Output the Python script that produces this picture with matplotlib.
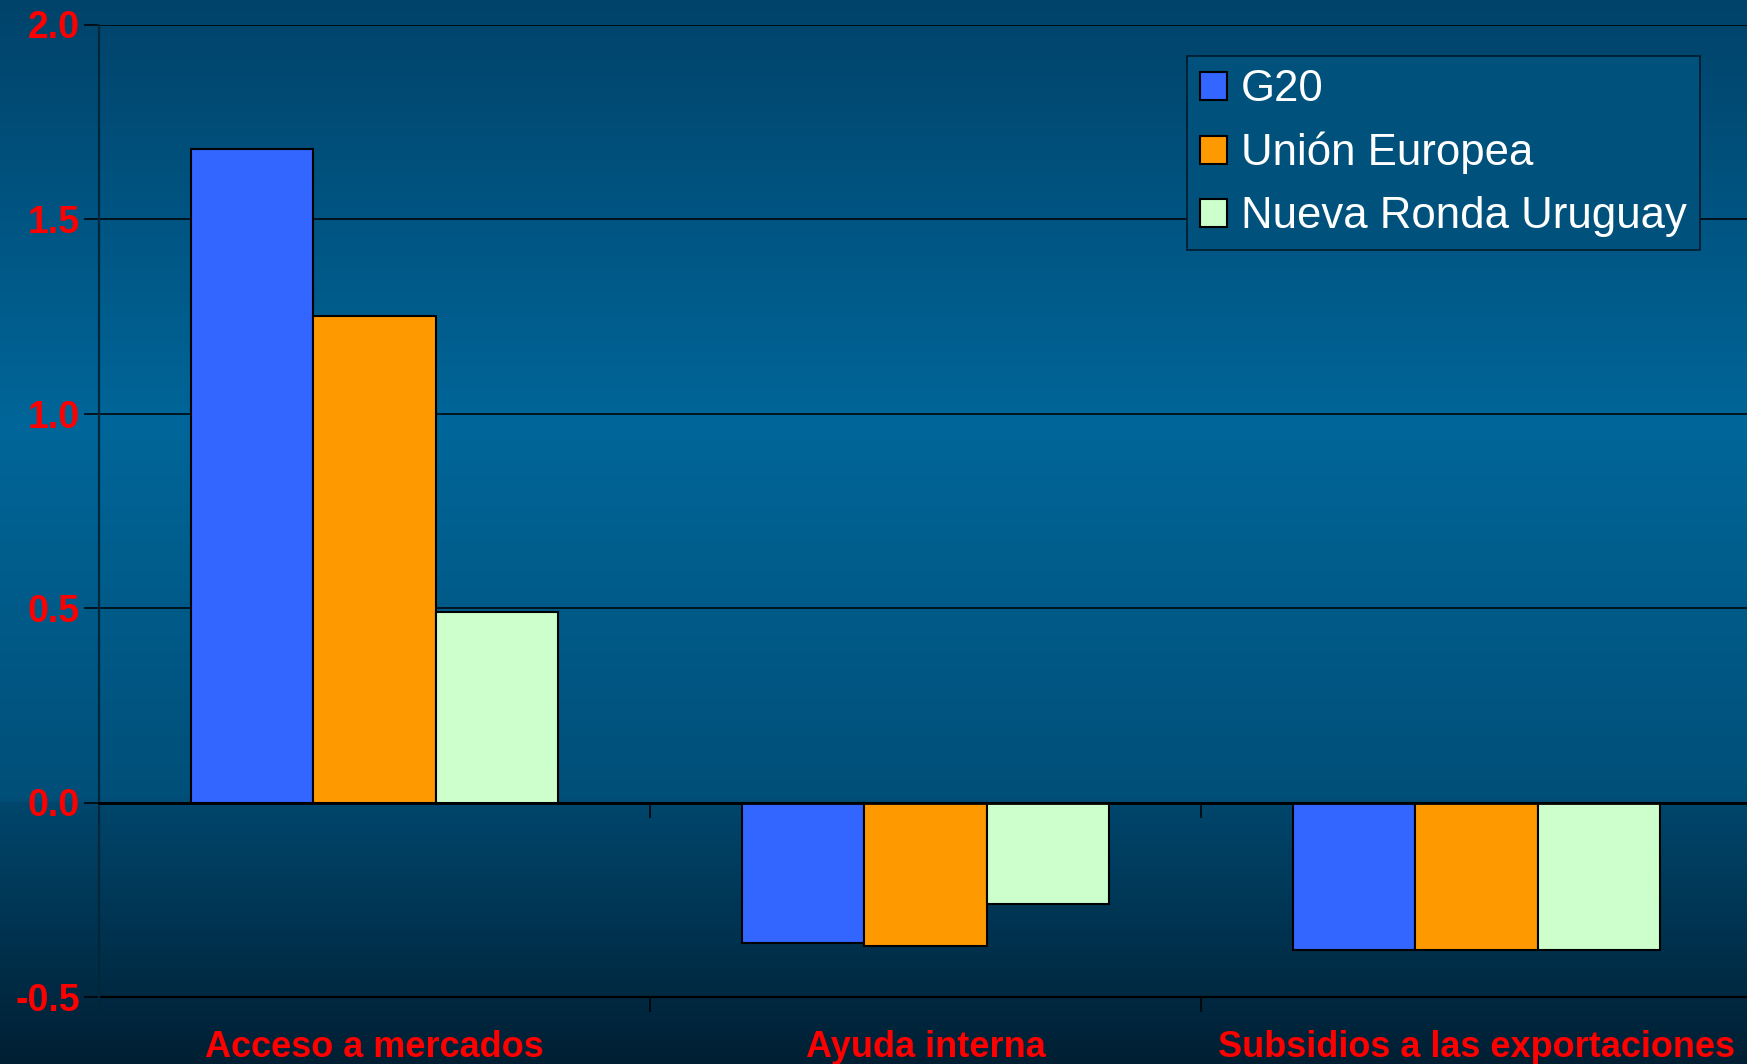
import numpy as np
import matplotlib
matplotlib.use('Agg')
import matplotlib.pyplot as plt
from matplotlib.colors import LinearSegmentedColormap

categories = ['Acceso a mercados', 'Ayuda interna', 'Subsidios a las exportaciones']
series_names = ['G20', 'Unión Europea', 'Nueva Ronda Uruguay']
g20 = [1.68, -0.36, -0.38]
ue = [1.25, -0.37, -0.38]
nru = [0.49, -0.26, -0.38]
yticks = [-0.5, 0.0, 0.5, 1.0, 1.5, 2.0]

colors = ['#3366ff', '#ff9900', '#ccffcc']

plt.rcParams['font.family'] = ['Liberation Sans', 'DejaVu Sans']

fig = plt.figure(figsize=(17.47, 10.64), dpi=100)

# background gradient (top -> bottom)
bg = fig.add_axes([0, 0, 1, 1], zorder=-10)
grad = LinearSegmentedColormap.from_list('bg', [
    (0.0, '#00436a'),
    (0.40, '#006699'),
    (0.752, '#004f78'),
    (0.756, '#00466c'),
    (1.0, '#001f33'),
])
bg.imshow(np.linspace(0, 1, 512).reshape(-1, 1), aspect='auto', cmap=grad,
          extent=[0, 1, 0, 1])
bg.axis('off')

ax = fig.add_axes([99 / 1747, 1 - 997 / 1064, (1752 - 99) / 1747, (997 - 24.5) / 1064])
ax.set_facecolor('none')

x = np.arange(len(categories))
w = 0.222
for i, (vals, name) in enumerate(zip([g20, ue, nru], series_names)):
    ax.bar(x + (i - 1) * w, vals, w, color=colors[i], edgecolor='black',
           linewidth=1.5, label=name, zorder=3)

ax.set_xlim(-0.5, len(categories) - 0.5)
ax.set_ylim(-0.5, 2.0)
ax.set_yticks(yticks)
ax.set_yticklabels([f'{v:.1f}' for v in yticks])
ax.grid(axis='y', color='black', linewidth=1.1, zorder=1)
ax.tick_params(axis='y', direction='out', length=10.8, width=1.1, color='black',
               labelcolor='#ff0000', labelsize=27, pad=3)
for lab in ax.get_yticklabels():
    lab.set_fontweight('bold')

for s in ['top', 'right']:
    ax.spines[s].set_visible(False)
ax.spines['left'].set_color('#00263a')
ax.spines['left'].set_linewidth(1.6)
ax.spines['left'].set_bounds(-0.54, 2.0)

# category axis sits on zero
ax.spines['bottom'].set_position(('data', 0))
ax.spines['bottom'].set_color('black')
ax.spines['bottom'].set_linewidth(2)
ax.spines['bottom'].set_zorder(4)
ax.set_xticks(np.arange(len(categories) + 1) - 0.5)
ax.tick_params(axis='x', direction='out', length=10.8, width=1.1, color='black',
               labelbottom=False)

# bottom axis: boundary ticks and category labels
sec = ax.secondary_xaxis('bottom')
sec.spines['bottom'].set_linewidth(1.6)
sec.spines['bottom'].set_color('black')
sec.set_xticks(x)
sec.set_xticklabels(categories)
sec.set_xticks(np.arange(len(categories) + 1) - 0.5, minor=True)
sec.tick_params(axis='x', which='major', length=0, pad=24,
                labelcolor='#ff0000', labelsize=26)
sec.tick_params(axis='x', which='minor', length=10.8, width=1.1, color='black')
for lab in sec.get_xticklabels():
    lab.set_fontweight('bold')

leg = fig.legend(loc='upper right', bbox_to_anchor=(1700 / 1747, 1 - 56 / 1064),
                 fontsize=31.5, frameon=True, facecolor='#00527c',
                 edgecolor='#001a2a', framealpha=1, fancybox=False,
                 handlelength=0.62, handleheight=0.62, handletextpad=0.32,
                 labelspacing=0.5, borderpad=0.3, borderaxespad=0)
leg.get_frame().set_linewidth(1.2)
for t in leg.get_texts():
    t.set_color('white')

fig.savefig('out.png', dpi=100)
